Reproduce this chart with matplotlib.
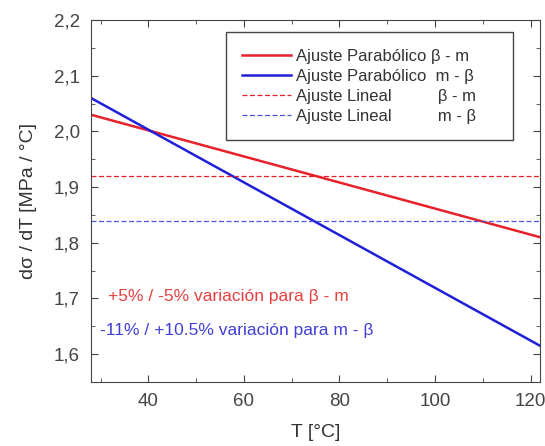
import numpy as np
import matplotlib.pyplot as plt
from matplotlib.ticker import MultipleLocator, FuncFormatter

plt.rcParams['font.family'] = ['Liberation Sans', 'DejaVu Sans']

# end points of the derivative curves (linear in T)
T = [28, 122]
parab_bm = [2.03, 1.81]
parab_mb = [2.06, 1.615]
lineal_bm = 1.92
lineal_mb = 1.84

fig = plt.figure(figsize=(5.45, 4.46), dpi=100)
ax = fig.add_axes([0.167, 0.1435, 0.824, 0.8115])

ax.plot(T, parab_bm, color='#e8202a', lw=1.8, label='Ajuste Parabólico β - m      ')
ax.plot(T, parab_mb, color='#2020d8', lw=1.8, label='Ajuste Parabólico  m - β')
ax.plot(T, [lineal_bm, lineal_bm], color='#e8202a', lw=0.9, ls=(0, (4, 2)),
        label='Ajuste Lineal          β - m')
ax.plot(T, [lineal_mb, lineal_mb], color='#4a5ae0', lw=0.9, ls=(0, (4, 2)),
        label='Ajuste Lineal          m - β')

ax.set_xlim(28, 122)
ax.set_ylim(1.55, 2.2)
ax.xaxis.set_major_locator(MultipleLocator(20))
ax.xaxis.set_minor_locator(MultipleLocator(10))
ax.yaxis.set_major_locator(MultipleLocator(0.1))
ax.yaxis.set_minor_locator(MultipleLocator(0.05))
ax.yaxis.set_major_formatter(FuncFormatter(lambda v, p: f'{v:.1f}'.replace('.', ',')))
ax.tick_params(which='both', direction='in', top=True, right=True, colors='#444444',
               labelsize=13.5, labelcolor='#444444')
ax.tick_params(which='major', length=5, pad=8)
ax.tick_params(which='minor', length=3)
for s in ax.spines.values():
    s.set_color('#444444')

ax.set_xlabel('T [°C]', fontsize=14, color='#333333', labelpad=10)
ax.set_ylabel('dσ / dT [MPa / °C]', fontsize=14, color='#333333', labelpad=12)

ax.text(0.037, 0.235, '+5% / -5% variación para β - m', transform=ax.transAxes,
        color='#e84040', fontsize=12.5, va='center')
ax.text(0.02, 0.141, '-11% / +10.5% variación para m - β', transform=ax.transAxes,
        color='#4040d8', fontsize=12.5, va='center')

leg = ax.legend(loc='upper right', bbox_to_anchor=(0.94, 0.967), fontsize=12,
                fancybox=False, framealpha=1, edgecolor='#444444',
                handlelength=2.9, handletextpad=0.3, labelspacing=0.3,
                borderpad=1.0, borderaxespad=0)
for t in leg.get_texts():
    t.set_color('#333333')

fig.savefig('out.png', dpi=100)
